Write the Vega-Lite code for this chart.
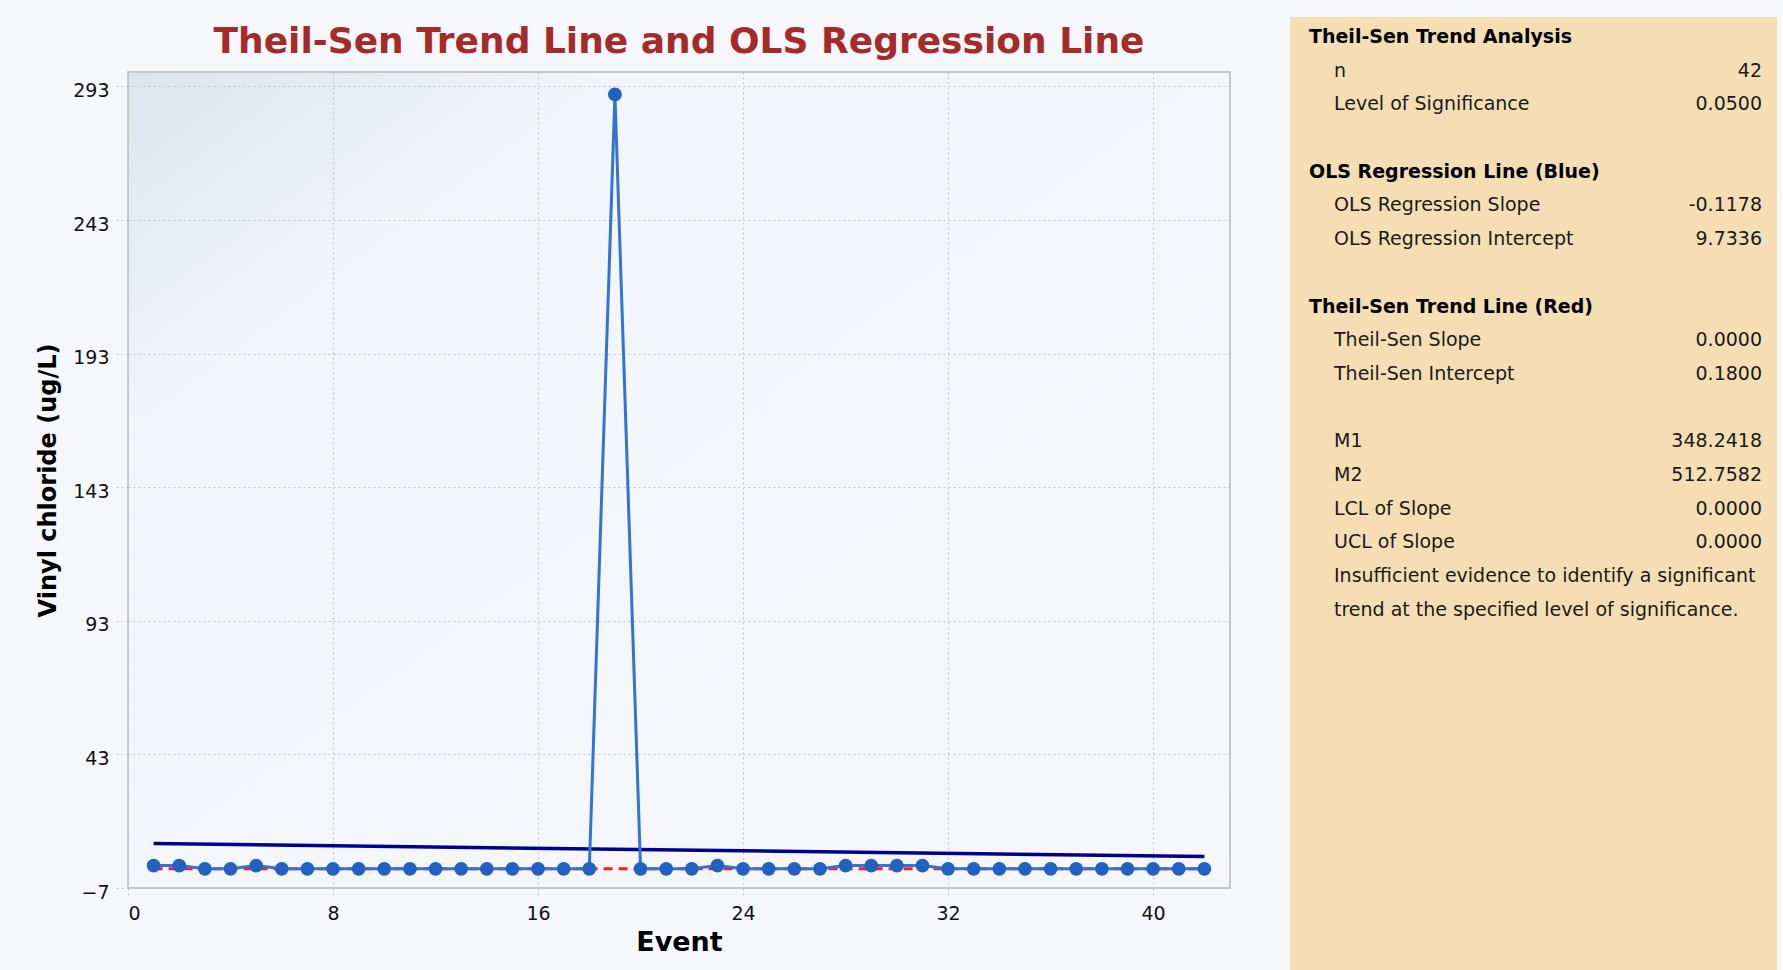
{
  "$schema": "https://vega.github.io/schema/vega-lite/v6.json",
  "background": "#f5f7fb",
  "padding": {"left": 35, "top": 17, "right": 6, "bottom": 0},
  "autosize": {"type": "pad"},
  "spacing": 59,
  "datasets": {
    "obs": [
      {"event": 1, "conc": 1.4}, {"event": 2, "conc": 1.4}, {"event": 3, "conc": 0.18},
      {"event": 4, "conc": 0.18}, {"event": 5, "conc": 1.4}, {"event": 6, "conc": 0.18},
      {"event": 7, "conc": 0.18}, {"event": 8, "conc": 0.18}, {"event": 9, "conc": 0.18},
      {"event": 10, "conc": 0.18}, {"event": 11, "conc": 0.18}, {"event": 12, "conc": 0.18},
      {"event": 13, "conc": 0.18}, {"event": 14, "conc": 0.18}, {"event": 15, "conc": 0.18},
      {"event": 16, "conc": 0.18}, {"event": 17, "conc": 0.18}, {"event": 18, "conc": 0.18},
      {"event": 19, "conc": 290}, {"event": 20, "conc": 0.18}, {"event": 21, "conc": 0.18},
      {"event": 22, "conc": 0.18}, {"event": 23, "conc": 1.4}, {"event": 24, "conc": 0.18},
      {"event": 25, "conc": 0.18}, {"event": 26, "conc": 0.18}, {"event": 27, "conc": 0.18},
      {"event": 28, "conc": 1.4}, {"event": 29, "conc": 1.4}, {"event": 30, "conc": 1.4},
      {"event": 31, "conc": 1.4}, {"event": 32, "conc": 0.18}, {"event": 33, "conc": 0.18},
      {"event": 34, "conc": 0.18}, {"event": 35, "conc": 0.18}, {"event": 36, "conc": 0.18},
      {"event": 37, "conc": 0.18}, {"event": 38, "conc": 0.18}, {"event": 39, "conc": 0.18},
      {"event": 40, "conc": 0.18}, {"event": 41, "conc": 0.18}, {"event": 42, "conc": 0.18}
    ],
    "ols": [{"event": 1, "conc": 9.6158}, {"event": 42, "conc": 4.786}],
    "ts": [{"event": 1, "conc": 0.18}, {"event": 42, "conc": 0.18}],
    "heading": [{"title": "Theil-Sen Trend Line and OLS Regression Line"}],
    "panel": [
      {"row": 0, "indent": 0, "bold": true, "label": "Theil-Sen Trend Analysis", "value": ""},
      {"row": 1, "indent": 1, "bold": false, "label": "n", "value": "42"},
      {"row": 2, "indent": 1, "bold": false, "label": "Level of Significance", "value": "0.0500"},
      {"row": 4, "indent": 0, "bold": true, "label": "OLS Regression Line (Blue)", "value": ""},
      {"row": 5, "indent": 1, "bold": false, "label": "OLS Regression Slope", "value": "-0.1178"},
      {"row": 6, "indent": 1, "bold": false, "label": "OLS Regression Intercept", "value": "9.7336"},
      {"row": 8, "indent": 0, "bold": true, "label": "Theil-Sen Trend Line (Red)", "value": ""},
      {"row": 9, "indent": 1, "bold": false, "label": "Theil-Sen Slope", "value": "0.0000"},
      {"row": 10, "indent": 1, "bold": false, "label": "Theil-Sen Intercept", "value": "0.1800"},
      {"row": 12, "indent": 1, "bold": false, "label": "M1", "value": "348.2418"},
      {"row": 13, "indent": 1, "bold": false, "label": "M2", "value": "512.7582"},
      {"row": 14, "indent": 1, "bold": false, "label": "LCL of Slope", "value": "0.0000"},
      {"row": 15, "indent": 1, "bold": false, "label": "UCL of Slope", "value": "0.0000"},
      {"row": 16, "indent": 1, "bold": false, "label": "Insufficient evidence to identify a significant", "value": ""},
      {"row": 17, "indent": 1, "bold": false, "label": "trend at the specified level of significance.", "value": ""}
    ]
  },
  "hconcat": [
    {
      "vconcat": [
        {
          "width": 1102,
          "height": 50,
          "view": {"stroke": null, "fill": null},
          "data": {"name": "heading"},
          "mark": {
            "type": "text",
            "align": "center",
            "baseline": "middle",
            "font": "DejaVu Sans",
            "fontSize": 36,
            "fontWeight": "bold",
            "color": "#a52a2a"
          },
          "encoding": {"text": {"field": "title"}}
        },
        {
          "width": 1102,
          "height": 816,
          "view": {
            "stroke": "#c8c8c8",
            "strokeWidth": 2,
            "fill": {
              "gradient": "linear",
              "x1": 0, "y1": 0, "x2": 1, "y2": 1,
              "stops": [
                {"offset": 0, "color": "#dce4ee"},
                {"offset": 0.22, "color": "#f2f5f9"},
                {"offset": 1, "color": "#f5f7fb"}
              ]
            }
          },
          "encoding": {
            "x": {
              "field": "event",
              "type": "quantitative",
              "title": "Event",
              "scale": {"domain": [0, 43], "nice": false, "zero": false},
              "axis": {
                "values": [0, 8, 16, 24, 32, 40],
                "domain": false,
                "grid": true,
                "gridColor": "#c2c2c2",
                "gridDash": [2, 3],
                "gridWidth": 1,
                "ticks": true,
                "tickColor": "#c2c2c2",
                "tickDash": [2, 3],
                "tickSize": 10,
                "labelFont": "DejaVu Sans",
                "labelFontSize": 19,
                "labelColor": "#111111",
                "labelPadding": 6,
                "titleFont": "DejaVu Sans",
                "titleFontSize": 27,
                "titleFontWeight": "bold",
                "titleColor": "#000000",
                "titlePadding": 6
              }
            },
            "y": {
              "field": "conc",
              "type": "quantitative",
              "title": "Vinyl chloride (ug/L)",
              "scale": {"domain": [-7, 298.4], "nice": false, "zero": false},
              "axis": {
                "values": [-7, 43, 93, 143, 193, 243, 293],
                "domain": false,
                "grid": true,
                "gridColor": "#c2c2c2",
                "gridDash": [2, 3],
                "gridWidth": 1,
                "ticks": true,
                "tickColor": "#c2c2c2",
                "tickDash": [2, 3],
                "tickSize": 12,
                "labelFont": "DejaVu Sans",
                "labelFontSize": 19,
                "labelColor": "#111111",
                "labelPadding": 7,
                "labelOffset": 4,
                "titleFont": "DejaVu Sans",
                "titleFontSize": 24,
                "titleFontWeight": "bold",
                "titleColor": "#000000",
                "titlePadding": 12
              }
            }
          },
          "layer": [
            {
              "data": {"name": "ts"},
              "mark": {"type": "line", "color": "#ff1a1a", "strokeWidth": 3, "strokeDash": [9, 6]}
            },
            {
              "data": {"name": "ols"},
              "mark": {"type": "line", "color": "#00008f", "strokeWidth": 3.5}
            },
            {
              "data": {"name": "obs"},
              "mark": {"type": "line", "color": "#3474d0", "strokeWidth": 3}
            },
            {
              "data": {"name": "obs"},
              "mark": {"type": "point", "shape": "circle", "filled": true, "size": 190, "color": "#2161c2", "opacity": 1}
            }
          ]
        }
      ],
      "spacing": 4
    },
    {
      "width": 487,
      "height": 953,
      "view": {"fill": "#f5deb3", "stroke": null},
      "data": {"name": "panel"},
      "encoding": {
        "y": {
          "field": "row",
          "type": "quantitative",
          "scale": {"domain": [-0.593, 27.69], "reverse": true, "nice": false, "zero": false},
          "axis": null
        }
      },
      "layer": [
        {
          "transform": [{"filter": "datum.bold"}],
          "mark": {"type": "text", "align": "left", "baseline": "middle", "font": "DejaVu Sans", "fontSize": 19, "fontWeight": "bold", "color": "#000000"},
          "encoding": {
            "x": {"field": "indent", "type": "quantitative", "scale": {"domain": [-0.76, 18.72], "nice": false, "zero": false}, "axis": null},
            "text": {"field": "label"}
          }
        },
        {
          "transform": [{"filter": "!datum.bold"}],
          "mark": {"type": "text", "align": "left", "baseline": "middle", "font": "DejaVu Sans", "fontSize": 19, "color": "#1a1a1a"},
          "encoding": {
            "x": {"field": "indent", "type": "quantitative", "scale": {"domain": [-0.76, 18.72], "nice": false, "zero": false}, "axis": null},
            "text": {"field": "label"}
          }
        },
        {
          "transform": [{"filter": "datum.value !== ''"}],
          "mark": {"type": "text", "align": "right", "baseline": "middle", "font": "DejaVu Sans", "fontSize": 19, "color": "#1a1a1a"},
          "encoding": {
            "x": {"datum": 18.12, "type": "quantitative", "scale": {"domain": [-0.76, 18.72], "nice": false, "zero": false}, "axis": null},
            "text": {"field": "value"}
          }
        }
      ]
    }
  ]
}
